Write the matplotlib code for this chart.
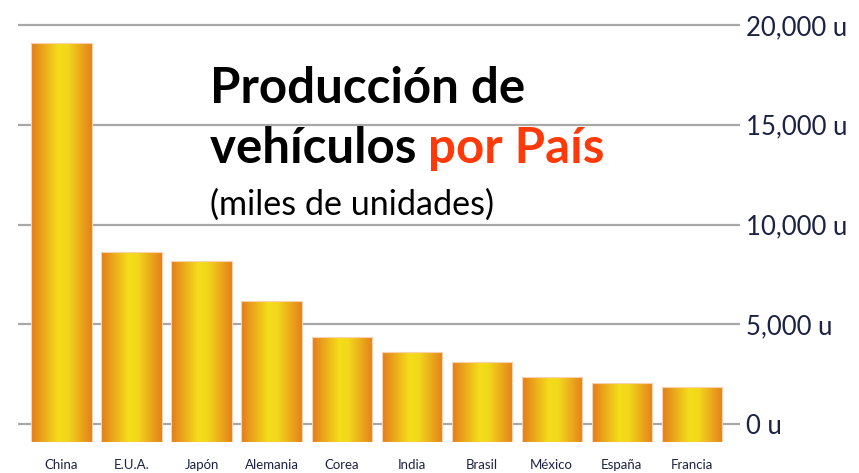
import numpy as np
import matplotlib
matplotlib.use("Agg")
import matplotlib.pyplot as plt
from matplotlib.colors import LinearSegmentedColormap

# data (miles de unidades)
paises = ["China", "E.U.A.", "Japón", "Alemania", "Corea", "India",
          "Brasil", "México", "España", "Francia"]
produccion = [19080, 8610, 8190, 6180, 4380, 3620, 3090, 2360, 2060, 1840]
ticks = [0, 5000, 10000, 15000, 20000]

W, H = 859, 473
fig = plt.figure(figsize=(W / 100, H / 100), dpi=100)
fig.patch.set_facecolor("white")

# axes placed in pixels so the gridlines line up with the picture
ax = fig.add_axes([18 / W, 1 - 442 / H, 722 / W, 419 / H])
for s in ax.spines.values():
    s.set_visible(False)

for t in ticks:
    ax.axhline(t, color="#a8a8a8", lw=1.6, zorder=1)

# orange-yellow-orange horizontal gradient inside each bar
grad = LinearSegmentedColormap.from_list(
    "gold", [(0, "#e47c1c"), (0.45, "#f4de1a"), (0.6, "#f2d81b"), (1, "#e5811c")])
g = np.linspace(0, 1, 256).reshape(1, -1)
x = np.arange(len(paises))
bars = ax.bar(x, np.array(produccion) + 900, bottom=-900, width=0.86,
              color="none", edgecolor="#f8d2b0", lw=0.8, zorder=3)
for b in bars:
    x0, y0 = b.get_x(), b.get_y()
    im = ax.imshow(g, cmap=grad, aspect="auto", zorder=2,
                   extent=[x0, x0 + b.get_width(), y0, y0 + b.get_height()])
    im.set_clip_path(b)
ax.set_xlim(-0.622, 9.69)
ax.set_ylim(-900, 20100)

ax.yaxis.tick_right()
ax.set_yticks(ticks)
ax.set_yticklabels([f"{t:,} u" for t in ticks], fontsize=18.5,
                   color="#1c2244", family="Lato")
ax.tick_params(axis="y", length=0, pad=4)
ax.set_xticks(x)
ax.set_xticklabels(paises, fontsize=9.5, color="#1c2244", family="Lato")
ax.tick_params(axis="x", length=0, pad=12)

# title block
fs = 35.5
fig.text(210 / W, 1 - 103 / H, "Producción de", fontsize=fs, weight="bold",
         family="Lato", color="black", va="baseline")
t2 = fig.text(210 / W, 1 - 163 / H, "vehículos ", fontsize=fs, weight="bold",
              family="Lato", color="black", va="baseline")
fig.canvas.draw()
bb = t2.get_window_extent()
fig.text(bb.x1 / W, 1 - 163 / H, "por País", fontsize=fs, weight="bold",
         family="Lato", color="#ff3a0a", va="baseline")
fig.text(210 / W, 1 - 215 / H, "(miles de unidades)", fontsize=24.6,
         family="Lato", color="black", va="baseline")

fig.savefig("out.png", dpi=100)
